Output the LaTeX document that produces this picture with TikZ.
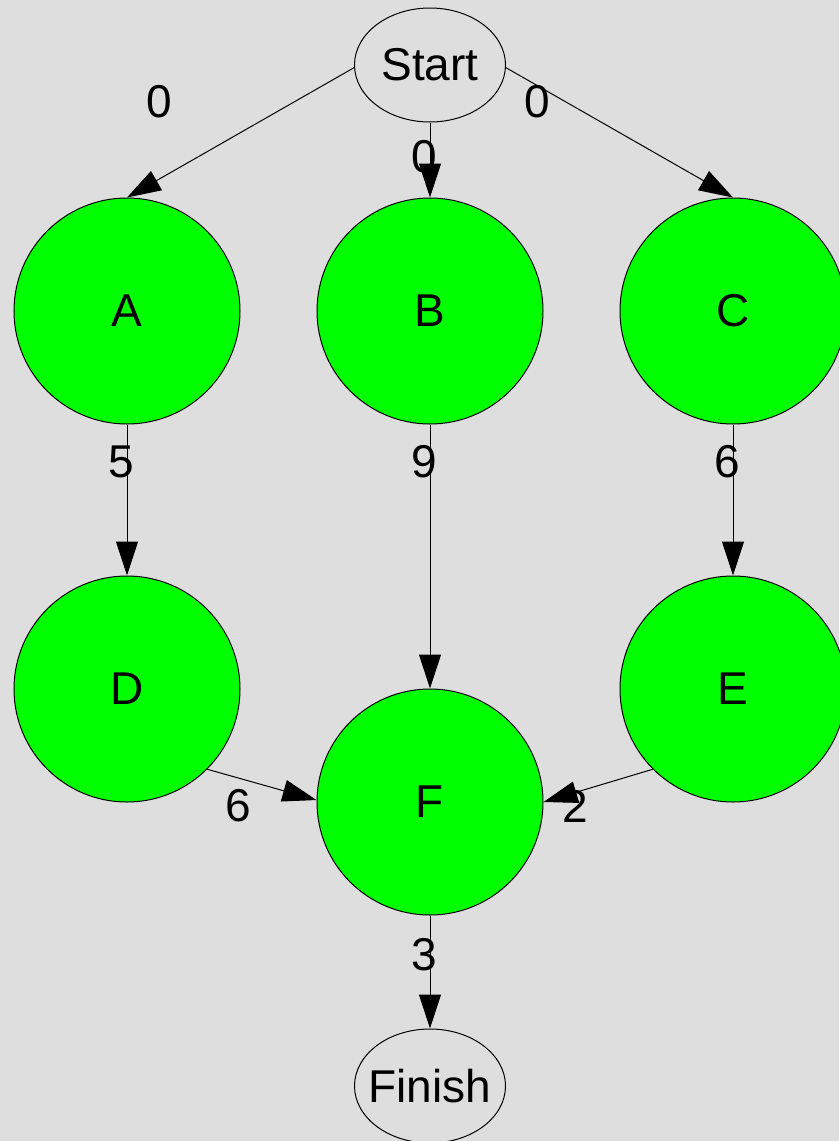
\documentclass[tikz,border=0pt]{standalone}
\usepackage{fontspec}
\setmainfont{Liberation Sans}
\usepackage{tikz}
\usetikzlibrary{arrows.meta}
\usetikzlibrary{shapes.geometric, positioning}
\definecolor{bg}{HTML}{DEDEDE}
\definecolor{task}{HTML}{00FF00}
\tikzstyle{arrow} = [line width=1pt, -{Triangle[length=34pt, width=22pt]}]
\tikzstyle{terminal} = [ellipse, draw=black, line width=1pt, minimum width=151pt, minimum height=114pt, inner sep=0pt, font=\fontsize{46}{50}\selectfont]
\tikzstyle{activity} = [circle, draw=black, fill=task, line width=1pt, minimum size=226pt, inner sep=0pt, font=\fontsize{46}{50}\selectfont]
\tikzstyle{weight} = [inner sep=0pt, font=\fontsize{46}{50}\selectfont]

\begin{document}
\begin{tikzpicture}[x=1pt, y=-1pt]
\useasboundingbox (0,0) rectangle (839,1141);
\fill [bg] (0,0) rectangle (839,1141);
%----------------------------------------------------------------------------
% Placement of nodes
\node (start) [terminal] at (430,65) {\makebox[0pt]{Start}};

\node (actA) [activity] at (127,311) {A};
\node (actB) [activity] at (430,311) {B};
\node (actC) [activity] at (733,311) {C};

\node (actD) [activity] at (127,689) {D};
\node (actE) [activity] at (733,689) {E};
\node (actF) [activity] at (430,802) {F};

\node (finish) [terminal] at (430,1086) {\makebox[0pt]{Finish}};

%----------------------------------------------------------------------------
% Lines
\draw [arrow] (start.182) -- (actA.north);
\draw [arrow] (start) -- (actB);
\draw [arrow] (start.-2) -- (actC.north);

\draw [arrow] (actA) -- (actD);
\draw [arrow] (actB) -- (actF);
\draw [arrow] (actC) -- (actE);

\draw [arrow] (actD.-45) -- (actF.179);
\draw [arrow] (actE.-135) -- (actF.east);

\draw [arrow] (actF) -- (finish);

%----------------------------------------------------------------------------
% Weights
\node (wSA) [weight] at (159,102) {0};
\node (wSB) [weight] at (424,157) {0};
\node (wSC) [weight] at (537,102) {0};
\node (wAD) [weight] at (121,462) {5};
\node (wBF) [weight] at (424,462) {9};
\node (wCE) [weight] at (727,462) {6};
\node (wDF) [weight] at (238,806) {6};
\node (wEF) [weight] at (575,806) {2};
\node (wFX) [weight] at (424,955) {3};
\end{tikzpicture}
\end{document}
